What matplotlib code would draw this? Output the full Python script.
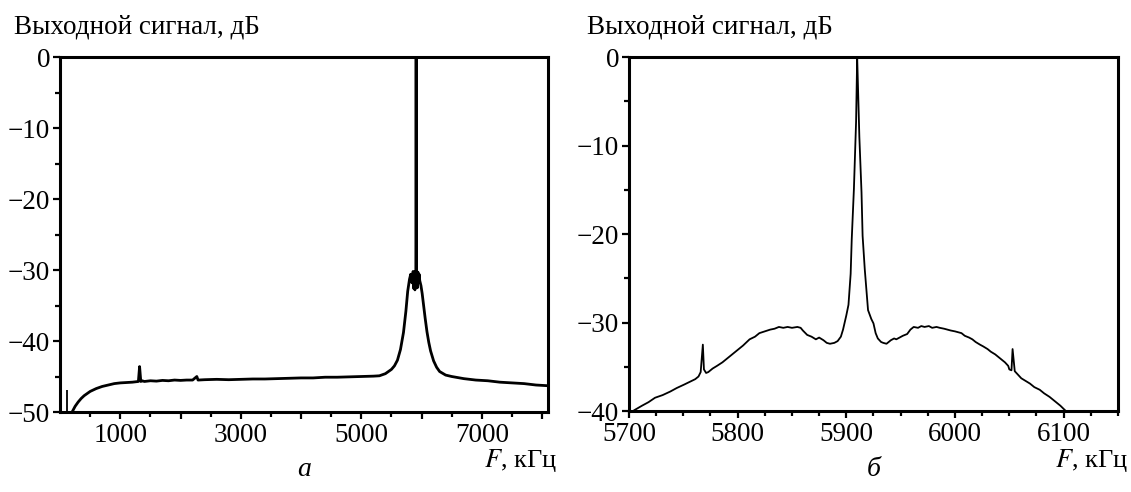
import numpy as np
import matplotlib.pyplot as plt

plt.rcParams['font.family'] = ['Liberation Serif', 'DejaVu Serif']
plt.rcParams['mathtext.fontset'] = 'stix'

# panel a: wide band spectrum, kHz / dB
freq_a = [200, 250, 300, 350, 400, 450, 500, 600, 700, 800, 900, 1000, 1100,
          1200, 1300, 1320, 1340, 1360, 1400, 1500, 1600, 1700, 1800, 1900,
          2000, 2100, 2200, 2270, 2290, 2400, 2600, 2800, 3000, 3200, 3400,
          3600, 3800, 4000, 4200, 4400, 4600, 4800, 5000, 5200, 5300, 5400,
          5450, 5500, 5550, 5600, 5650, 5700, 5740, 5770, 5800, 5820, 5840,
          5860, 5870, 5880, 5890, 5900, 5905, 5910, 5915, 5920, 5930, 5940,
          5950, 5960, 5970, 5990, 6010, 6030, 6060, 6090, 6120, 6150, 6200,
          6250, 6300, 6400, 6500, 6700, 6900, 7100, 7300, 7500, 7700, 7900,
          8100]
level_a = [-50.0, -49.2, -48.6, -48.1, -47.7, -47.4, -47.1, -46.7, -46.4,
           -46.2, -46.0, -45.9, -45.85, -45.8, -45.7, -43.6, -45.7, -45.6,
           -45.7, -45.6, -45.65, -45.55, -45.6, -45.5, -45.55, -45.5, -45.5,
           -45.0, -45.5, -45.45, -45.4, -45.45, -45.4, -45.35, -45.35, -45.3,
           -45.25, -45.2, -45.2, -45.1, -45.1, -45.05, -45.0, -44.95, -44.9,
           -44.6, -44.3, -44.0, -43.5, -42.7, -41.2, -38.8, -35.8, -33.0,
           -31.3, -30.6, -31.8, -30.2, -32.6, -30.3, -32.8, -30.2, -31.0, 0.0,
           -31.0, -30.2, -32.5, -30.3, -31.8, -30.6, -31.5, -32.2, -33.3,
           -34.7, -36.8, -38.7, -40.2, -41.4, -42.8, -43.7, -44.3, -44.8,
           -45.0, -45.3, -45.5, -45.6, -45.8, -45.9, -46.0, -46.2, -46.3]
spike_freq_a = [110]
spike_top_a = [-46.9]

# panel b: zoom around the carrier
freq_b = [5705, 5712, 5718, 5724, 5731, 5738, 5744, 5751, 5756, 5761, 5764,
          5766, 5768, 5769, 5771, 5773, 5777, 5781, 5786, 5790, 5795, 5800,
          5805, 5811, 5816, 5820, 5825, 5830, 5834, 5838, 5842, 5846, 5850,
          5855, 5858, 5860, 5864, 5868, 5872, 5875, 5879, 5882, 5885, 5889,
          5892, 5895, 5897, 5900, 5902, 5904, 5905, 5907, 5909, 5910, 5911,
          5912, 5914, 5915, 5917, 5920, 5923, 5925, 5927, 5929, 5932, 5934,
          5937, 5939, 5941, 5944, 5946, 5949, 5952, 5956, 5959, 5962, 5966,
          5969, 5972, 5976, 5979, 5983, 5986, 5990, 5993, 5996, 6000, 6003,
          6006, 6009, 6013, 6016, 6019, 6023, 6026, 6030, 6033, 6037, 6040,
          6043, 6046, 6049, 6050, 6052, 6053, 6055, 6058, 6061, 6065, 6069,
          6073, 6078, 6082, 6087, 6092, 6097, 6102]
level_b = [-39.9, -39.4, -39.0, -38.5, -38.2, -37.8, -37.4, -37.0, -36.7,
           -36.4, -36.1, -35.6, -32.5, -35.3, -35.7, -35.6, -35.2, -34.9,
           -34.5, -34.1, -33.6, -33.1, -32.6, -31.9, -31.6, -31.2, -31.0,
           -30.8, -30.7, -30.5, -30.6, -30.5, -30.6, -30.5, -30.6, -30.9,
           -31.4, -31.6, -31.9, -31.7, -32.0, -32.3, -32.4, -32.3, -32.1,
           -31.6, -30.8, -29.2, -28.0, -24.5, -20.6, -14.9, -7.3, 0.0, -4.5,
           -9.0, -15.3, -20.2, -24.0, -28.6, -29.6, -30.1, -31.2, -31.8,
           -32.2, -32.3, -32.4, -32.2, -32.0, -31.8, -31.9, -31.7, -31.5,
           -31.3, -30.8, -30.5, -30.6, -30.4, -30.5, -30.4, -30.6, -30.5,
           -30.6, -30.7, -30.8, -30.9, -31.0, -31.1, -31.2, -31.5, -31.7,
           -31.9, -32.2, -32.5, -32.7, -33.0, -33.3, -33.6, -33.9, -34.2,
           -34.5, -34.9, -35.3, -35.4, -33.0, -35.5, -35.9, -36.3, -36.6,
           -36.9, -37.3, -37.6, -38.0, -38.4, -38.9, -39.4, -40.0]

fig = plt.figure(figsize=(11.31, 4.92), dpi=100)
ax1 = fig.add_axes([0.0531, 0.1626, 0.4315, 0.7215])
ax2 = fig.add_axes([0.5561, 0.1646, 0.4324, 0.7195])

ax1.plot(freq_a, level_a, color='black', lw=2.0)
ax1.vlines(spike_freq_a, -50, spike_top_a, color='black', lw=1.3)
ax2.plot(freq_b, level_b, color='black', lw=1.3)

ax1.set_xlim(0, 8100)
ax1.set_ylim(-50, 0)
ax1.set_xticks(range(1000, 8001, 1000))
ax1.set_xticklabels(['1000', '', '3000', '', '5000', '', '7000', ''])
ax1.set_xticks(range(500, 8001, 1000), minor=True)
ax1.set_yticks(range(-50, 1, 10))
ax1.set_yticks(range(-45, 0, 10), minor=True)

ax2.set_xlim(5700, 6150)
ax2.set_ylim(-40, 0)
ax2.set_xticks(range(5700, 6101, 100))
ax2.set_xticks([f for f in range(5725, 6151, 25) if f % 100], minor=True)
ax2.set_yticks(range(-40, 1, 10))
ax2.set_yticks(range(-35, 0, 10), minor=True)

for ax in (ax1, ax2):
    for s in ax.spines.values():
        s.set_linewidth(2.2)
    ax.tick_params(which='major', direction='out', length=5, width=1.6,
                   labelsize=19.5, pad=2)
    ax.tick_params(which='minor', direction='out', length=3.6, width=1.6)
    ax.tick_params(axis='x', which='major', pad=3)

fig.text(14 / 1131, 1 - 27 / 492, 'Выходной сигнал, дБ', fontsize=19.5, va='center')
fig.text(587 / 1131, 1 - 27 / 492, 'Выходной сигнал, дБ', fontsize=19.5, va='center')
fig.text(557 / 1131, 1 - 460 / 492, '$F$, кГц', fontsize=19, ha='right', va='center')
fig.text(1128 / 1131, 1 - 461 / 492, '$F$, кГц', fontsize=19, ha='right', va='center')
fig.text(304 / 1131, 1 - 470 / 492, 'а', fontsize=20, style='italic', ha='center', va='center')
fig.text(874 / 1131, 1 - 470 / 492, 'б', fontsize=20, style='italic', ha='center', va='center')

fig.savefig('out.png', dpi=100)
